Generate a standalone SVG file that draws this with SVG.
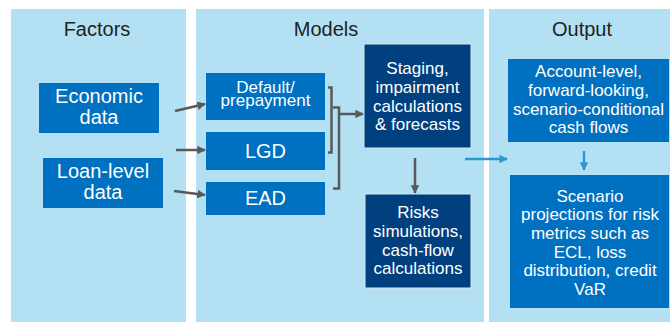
<svg xmlns="http://www.w3.org/2000/svg" width="671" height="322" viewBox="0 0 671 322">
<defs>
<style>
.panel{fill:#b3e1f3}
.title{font-family:"Liberation Sans",Arial,sans-serif;font-size:20px;fill:#222;text-anchor:middle}
.box{fill:#0070c0}
.dark{fill:#00407f;stroke:#d6e6f2;stroke-width:1}
.t{font-family:"Liberation Sans",Arial,sans-serif;font-size:17px;fill:#fff;text-anchor:middle}
.t20{font-family:"Liberation Sans",Arial,sans-serif;font-size:20px;fill:#fff;text-anchor:middle}
.g{stroke:#595959;stroke-width:2.5;fill:none}
.b{stroke:#2b98d0;stroke-width:2.5;fill:none}
</style>
<marker id="ag" viewBox="0 0 10 10" refX="9" refY="5" markerWidth="3.4" markerHeight="3.4" orient="auto" markerUnits="strokeWidth">
<path d="M0,0 L10,5 L0,10 z" fill="#595959"/>
</marker>
<marker id="ab" viewBox="0 0 10 10" refX="9" refY="5" markerWidth="3.4" markerHeight="3.4" orient="auto" markerUnits="strokeWidth">
<path d="M0,0 L10,5 L0,10 z" fill="#2b98d0"/>
</marker>
</defs>
<rect width="671" height="322" fill="#fff"/>
<g id="panels">
<rect class="panel" x="11" y="9" width="175" height="313"/>
<rect class="panel" x="196" y="9" width="288" height="313"/>
<rect class="panel" x="489" y="9" width="181" height="313"/>
<text class="title" x="97" y="36">Factors</text>
<text class="title" x="326" y="36">Models</text>
<text class="title" x="582" y="36">Output</text>
</g>
<g id="economic">
<rect class="box" x="39" y="83" width="120" height="50"/>
<text class="t20" x="99" y="103">Economic</text>
<text class="t20" x="99" y="124">data</text>
</g>
<g id="loan">
<rect class="box" x="43" y="158" width="120" height="50"/>
<text class="t20" x="103" y="178">Loan-level</text>
<text class="t20" x="103" y="199">data</text>
</g>
<g id="default">
<rect class="box" x="206" y="73" width="119" height="47"/>
<text class="t"><tspan x="265.5" y="92.5">Default/</tspan><tspan x="265.5" y="106">prepayment</tspan></text>
</g>
<g id="lgd">
<rect class="box" x="206" y="132" width="119" height="38"/>
<text class="t20" x="265.5" y="157.5">LGD</text>
</g>
<g id="ead">
<rect class="box" x="206" y="182" width="119" height="33"/>
<text class="t20" x="265.5" y="205">EAD</text>
</g>
<g id="staging">
<rect class="dark" x="364" y="44" width="107" height="104"/>
<text class="t" x="417.5" y="74.3">Staging,</text>
<text class="t" x="417.5" y="93">impairment</text>
<text class="t" x="417.5" y="111.5">calculations</text>
<text class="t" x="417.5" y="130">&amp; forecasts</text>
</g>
<g id="risks">
<rect class="dark" x="365" y="194" width="106" height="94"/>
<text class="t" x="418" y="218.3">Risks</text>
<text class="t" x="418" y="237">simulations,</text>
<text class="t" x="418" y="255.5">cash-flow</text>
<text class="t" x="418" y="274">calculations</text>
</g>
<g id="account">
<rect class="box" x="508" y="59" width="161" height="83"/>
<text class="t" x="588.5" y="77.3">Account-level,</text>
<text class="t" x="588.5" y="96">forward-looking,</text>
<text class="t" x="588.5" y="114.7">scenario-conditional</text>
<text class="t" x="588.5" y="133.3">cash flows</text>
</g>
<g id="scenario">
<rect class="box" x="510" y="175" width="159" height="133"/>
<text class="t" x="590" y="201.7">Scenario</text>
<text class="t" x="590" y="220.4">projections for risk</text>
<text class="t" x="590" y="239">metrics such as</text>
<text class="t" x="590" y="257.7">ECL, loss</text>
<text class="t" x="590" y="276.4">distribution, credit</text>
<text class="t" x="590" y="295">VaR</text>
</g>
<g id="connectors">
<line class="g" x1="175" y1="111" x2="205" y2="104" marker-end="url(#ag)"/>
<line class="g" x1="176" y1="150" x2="205" y2="150" marker-end="url(#ag)"/>
<line class="g" x1="174" y1="191" x2="205" y2="195" marker-end="url(#ag)"/>
<path class="g" d="M328,87.5 H331.5 V152.5 H328"/>
<path class="g" d="M333,107.5 H339 V188.5 H333"/>
<line class="g" x1="339" y1="114" x2="363" y2="114" marker-end="url(#ag)"/>
<line class="g" x1="415" y1="158" x2="415" y2="193" marker-end="url(#ag)"/>
<line class="b" x1="465" y1="159" x2="507" y2="159" marker-end="url(#ab)"/>
<line class="b" x1="584" y1="151" x2="584" y2="170" marker-end="url(#ab)"/>
</g>
</svg>
